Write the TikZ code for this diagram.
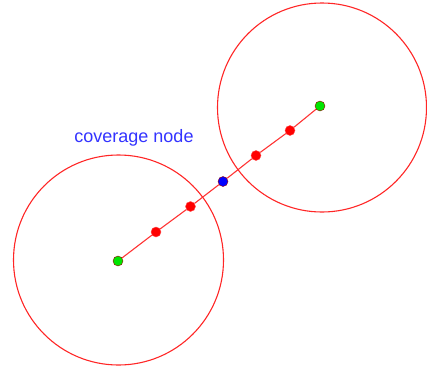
\documentclass[tikz,border=0pt]{standalone}
\usepackage{fontspec}
\setmainfont{Liberation Sans}
\usetikzlibrary{positioning}

\begin{document}
\begin{tikzpicture}[
  x=1pt,y=-1pt,
  ring/.style={draw=red!85,line width=1.1pt},
  link/.style={draw=red!80,line width=1.1pt},
  hop/.style={circle,fill=red,draw=red!70!white,line width=0.4pt,inner sep=0pt,minimum size=10pt},
  sink/.style={hop,fill=green!90!black,draw=red!60!black},
  relay/.style={hop,fill=blue,draw=red!60!black},
  lbl/.style={text=blue!80!white,font=\fontsize{18}{21}\selectfont}
]
\useasboundingbox (0,0) rectangle (427,372);
\draw[ring] (118.5,260) circle (105);
\draw[ring] (322,107.5) circle (104.5);
\node[sink] (s1) at (118,261) {};
\node[hop] (h1) at (156,232) {};
\node[hop] (h2) at (190.5,206.5) {};
\node[relay] (c) at (223,181.5) {};
\node[hop] (h3) at (256,155.5) {};
\node[hop] (h4) at (290,130.5) {};
\node[sink] (s2) at (320,106) {};
\draw[link] (s1) -- (h1) -- (h2) -- (c) -- (h3) -- (h4) -- (s2);
\node[lbl] (cov) at (134,137.5) {coverage node};
\end{tikzpicture}
\end{document}
